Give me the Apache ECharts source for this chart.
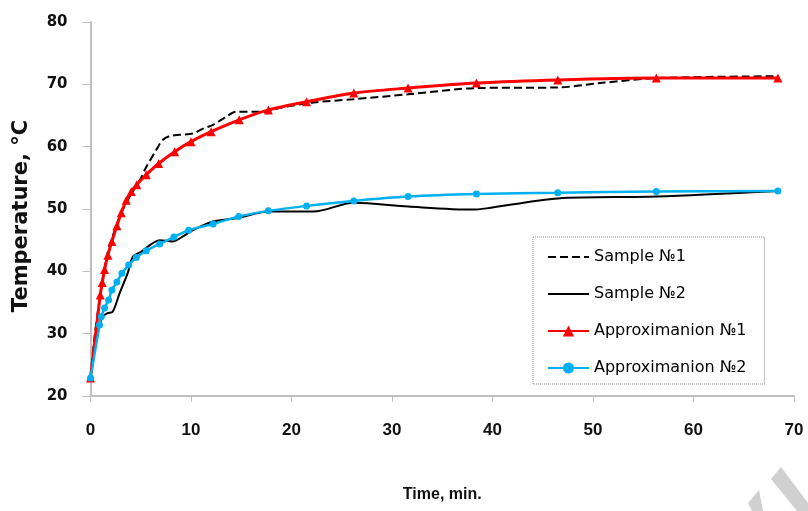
<!DOCTYPE html>
<html>
<head>
<meta charset="utf-8">
<script src="https://cdn.jsdelivr.net/npm/echarts@6/dist/echarts.min.js"></script>
<style>
html,body{margin:0;padding:0;background:#fff;}
#chart{width:808px;height:511px;}
</style>
</head>
<body>
<div id="chart"></div>
<script>
// Sample №1 (dashed black)
var sample1Time = [0, 0.4, 0.9, 1.6, 2.2, 2.9, 3.7, 4.4, 5.0, 5.4, 6.55, 7.2, 7.9, 8.9, 10.2, 11.2, 12.2, 13.5, 14.5, 17.3, 18.8, 20.5, 22.2, 26.1, 31.6, 38.4, 46.5, 50.7, 56.3, 68.4];
var sample1Temp = [22.9, 29.5, 35.4, 42.3, 45.6, 48.8, 51.4, 53.3, 54.9, 56.3, 59.5, 61.1, 61.7, 61.9, 62.1, 62.9, 63.5, 64.8, 65.6, 65.6, 66.2, 66.7, 67.1, 67.6, 68.4, 69.4, 69.5, 70.2, 71.0, 71.3];
// Sample №2 (solid black)
var sample2Time = [0, 0.7, 1.2, 1.7, 2.2, 2.9, 3.7, 4.2, 5.0, 6.9, 8.2, 9.2, 10.2, 12.2, 14.5, 17.7, 22.2, 26.2, 31.6, 38.0, 39.4, 46.5, 56.3, 68.4];
var sample2Temp = [22.9, 30.0, 32.7, 33.3, 33.5, 36.5, 39.7, 42.3, 43.1, 45.0, 44.8, 45.6, 46.6, 48.0, 48.5, 49.6, 49.6, 51.0, 50.4, 49.9, 50.1, 51.7, 52.0, 52.9];
// Approximanion №1 (red, triangles)
var approx1Time = [0, 0.97, 1.17, 1.4, 1.73, 2.13, 2.63, 3.06, 3.56, 4.06, 4.6, 5.55, 6.78, 8.37, 10.0, 12.0, 14.8, 17.7, 21.5, 26.2, 31.6, 38.4, 46.5, 56.3, 68.4];
var approx1Temp = [22.9, 36.2, 38.2, 40.3, 42.6, 44.8, 47.3, 49.4, 51.4, 52.8, 53.9, 55.5, 57.3, 59.2, 60.8, 62.4, 64.3, 65.9, 67.2, 68.6, 69.4, 70.2, 70.7, 71.0, 71.0];
// Approximanion №2 (blue, circles)
var approx2Time = [0, 0.9, 1.07, 1.4, 1.8, 2.13, 2.63, 3.13, 3.8, 4.55, 5.55, 6.88, 8.3, 9.77, 12.2, 14.75, 17.7, 21.5, 26.2, 31.6, 38.4, 46.5, 56.3, 68.4];
var approx2Temp = [22.9, 31.4, 32.7, 34.1, 35.4, 37.0, 38.3, 39.7, 41.0, 42.2, 43.3, 44.4, 45.5, 46.6, 47.6, 48.8, 49.7, 50.5, 51.3, 52.0, 52.4, 52.6, 52.8, 52.9];

var seriesNames = ['Sample №1', 'Sample №2', 'Approximanion №1', 'Approximanion №2'];
var xTitle = 'Time, min.';
var yTitle = 'Temperature, °C';

function pairs(xs, ys) { return xs.map(function (x, i) { return [x, ys[i]]; }); }

var chart = echarts.init(document.getElementById('chart'), null, {renderer: 'canvas'});
chart.setOption({
  animation: false,
  backgroundColor: '#ffffff',
  grid: {left: 90.5, right: 14, top: 22, bottom: 115, containLabel: false},
  legend: {
    orient: 'vertical',
    left: 533, top: 237,
    padding: [12, 18, 8, 14],
    itemWidth: 41, itemHeight: 14, itemGap: 21,
    borderColor: '#8c8c8c', borderWidth: 1, borderType: 'dotted',
    backgroundColor: '#ffffff',
    textStyle: {fontFamily: 'DejaVu Sans', fontSize: 16, color: '#000', lineHeight: 14},
    data: [
      {name: seriesNames[0], itemStyle: {opacity: 0}},
      {name: seriesNames[1], itemStyle: {opacity: 0}},
      {name: seriesNames[2]},
      {name: seriesNames[3]}
    ]
  },
  xAxis: {
    type: 'value', min: 0, max: 70, interval: 10,
    name: xTitle, nameLocation: 'middle', nameGap: 91,
    nameTextStyle: {fontFamily: 'Liberation Sans', fontWeight: 'bold', fontSize: 16, color: '#111'},
    axisLine: {show: true, lineStyle: {color: '#bfbfbf', width: 2}},
    axisTick: {show: true, length: 6, lineStyle: {color: '#bfbfbf', width: 1}},
    axisLabel: {margin: 26, fontFamily: 'Liberation Sans', fontWeight: 'bold', fontSize: 17, color: '#111'},
    splitLine: {show: false}
  },
  yAxis: {
    type: 'value', min: 20, max: 80, interval: 10,
    name: yTitle, nameLocation: 'middle', nameGap: 58, nameRotate: 90,
    nameTextStyle: {fontFamily: 'DejaVu Sans', fontWeight: 'bold', fontSize: 21, color: '#111', padding: [0, 14, 0, 0]},
    axisLine: {show: true, lineStyle: {color: '#bfbfbf', width: 2}},
    axisTick: {show: true, length: 8, lineStyle: {color: '#bfbfbf', width: 1}},
    axisLabel: {margin: 23, fontFamily: 'DejaVu Sans', fontWeight: 'bold', fontSize: 15, color: '#111'},
    splitLine: {show: false}
  },
  series: [
    {name: seriesNames[0], type: 'line', data: pairs(sample1Time, sample1Temp), smooth: 0.3, symbol: 'none',
     lineStyle: {color: '#000', width: 2, type: [8, 4]}, itemStyle: {color: '#000'}, z: 2},
    {name: seriesNames[1], type: 'line', data: pairs(sample2Time, sample2Temp), smooth: 0.3, symbol: 'none',
     lineStyle: {color: '#000', width: 2}, itemStyle: {color: '#000'}, z: 2},
    {name: seriesNames[2], type: 'line', data: pairs(approx1Time, approx1Temp), smooth: 0.3, symbol: 'triangle', symbolSize: 9,
     lineStyle: {color: '#ff0000', width: 3}, itemStyle: {color: '#ff0000'}, z: 3},
    {name: seriesNames[3], type: 'line', data: pairs(approx2Time, approx2Temp), smooth: 0.3, symbol: 'circle', symbolSize: 7,
     lineStyle: {color: '#00b0f0', width: 2.5}, itemStyle: {color: '#00b0f0'}, z: 4}
  ],
  graphic: [
    {type: 'polygon', silent: true, shape: {points: [[771, 479], [781, 467], [808, 503], [808, 511], [797, 511]]}, style: {fill: '#d0d0d0'}},
    {type: 'polygon', silent: true, shape: {points: [[748, 503], [759, 490], [763, 511], [752, 511]]}, style: {fill: '#d0d0d0'}}
  ]
});
</script>
</body>
</html>
